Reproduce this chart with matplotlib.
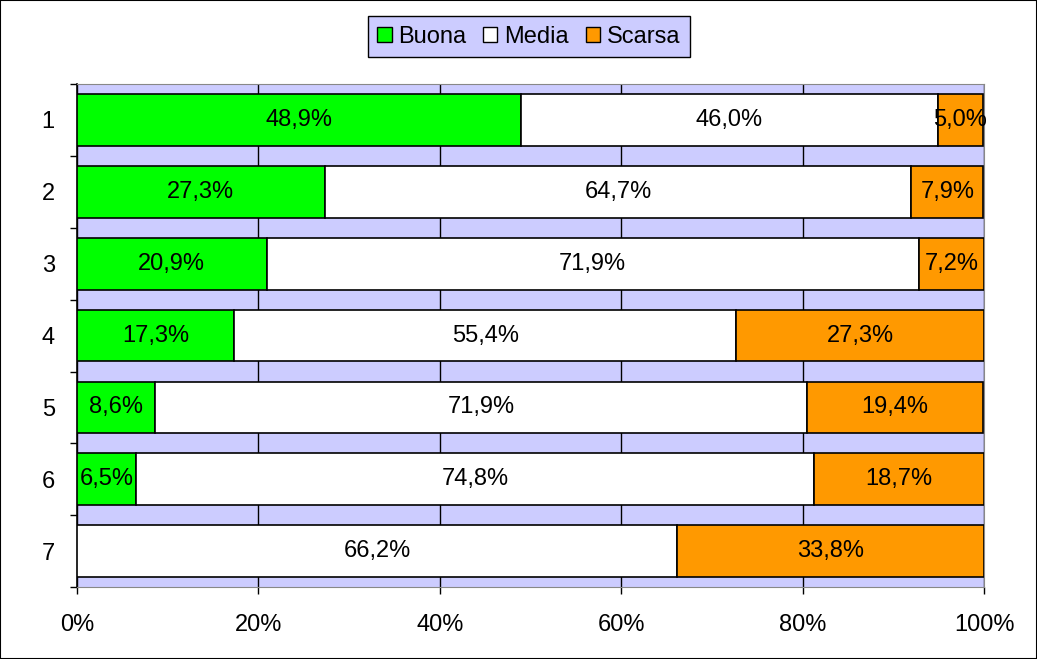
import numpy as np
import matplotlib
matplotlib.use("Agg")
from matplotlib import pyplot as plt
from matplotlib.patches import Patch

plt.rcParams['font.family'] = ['Liberation Sans', 'DejaVu Sans']

categories = ['1', '2', '3', '4', '5', '6', '7']
buona = [48.9, 27.3, 20.9, 17.3, 8.6, 6.5, 0.0]
media = [46.0, 64.7, 71.9, 55.4, 71.9, 74.8, 66.2]
scarsa = [5.0, 7.9, 7.2, 27.3, 19.4, 18.7, 33.8]
series = ['Buona', 'Media', 'Scarsa']
colors = ['#00FF00', '#FFFFFF', '#FF9900']

fig = plt.figure(figsize=(10.37, 6.59), dpi=100)
ax = fig.add_axes([0.0743, 0.109, 0.8746, 0.7635])
ax.set_facecolor('#CCCCFF')

y = np.arange(len(categories))
left = np.zeros(len(categories))
for name, vals, c in zip(series, [buona, media, scarsa], colors):
    vals = np.array(vals)
    ax.barh(y, vals, left=left, height=0.72, color=c, edgecolor='black',
            linewidth=1.2, zorder=3)
    for yi, l, v in zip(y, left, vals):
        if v > 0:
            ax.text(l + v / 2, yi, f"{v:.1f}%".replace('.', ','), ha='center',
                    va='center', fontsize=17, zorder=4)
    left += vals

ax.set_xlim(0, 100)
ax.set_ylim(len(categories) - 0.5, -0.5)
ax.set_xticks(np.arange(0, 101, 20))
ax.set_xticklabels([f"{t}%" for t in range(0, 101, 20)], fontsize=17)
ax.set_yticks(y)
ax.set_yticklabels(categories, fontsize=17)
ax.set_yticks(np.arange(-0.5, len(categories), 1), minor=True)
ax.tick_params(axis='y', which='major', length=0, pad=16)
ax.tick_params(axis='y', which='minor', length=5, width=1)
ax.tick_params(axis='x', length=5, width=1, pad=14)
ax.grid(axis='x', color='black', linewidth=1, zorder=1)
for s in ['top', 'right']:
    ax.spines[s].set_color('#888888')
ax.spines['bottom'].set_color('#888888')
ax.spines['left'].set_color('black')
ax.spines['left'].set_linewidth(1.2)

handles = [Patch(facecolor=c, edgecolor='black', label=n) for n, c in zip(series, colors)]
leg = fig.legend(handles=handles, loc='center', bbox_to_anchor=(0.51, 0.944), ncol=3,
                 fontsize=17, frameon=True, fancybox=False, handlelength=0.6,
                 handleheight=0.6, handletextpad=0.3, columnspacing=0.7,
                 borderpad=0.4)
leg.get_frame().set_facecolor('#CCCCFF')
leg.get_frame().set_edgecolor('black')
leg.get_frame().set_alpha(1)

fig.patches.append(plt.Rectangle((0, 0), 1, 1, transform=fig.transFigure,
                                 fill=False, edgecolor='black', linewidth=1.5))
fig.savefig('out.png', dpi=100)
